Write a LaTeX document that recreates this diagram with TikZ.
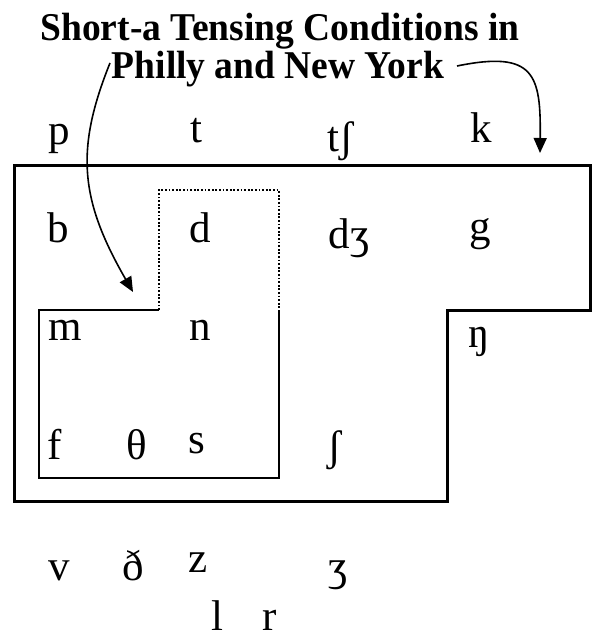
\documentclass[tikz,border=0pt]{standalone}
\usepackage{fontspec}
\setmainfont{Liberation Serif}
\usetikzlibrary{arrows.meta}
\newcommand{\tallhead}[1]{\scalebox{1}[1.05]{#1}}
\tikzset{
  phone/.style={anchor=base, inner sep=0pt, font=\fontsize{43}{50}\selectfont},
  heading/.style={anchor=base, inner sep=0pt, font=\fontsize{37.5}{40}\selectfont\bfseries},
  outerline/.style={line width=3pt},
  innerline/.style={line width=1.5pt},
  dotline/.style={line width=1.8pt, dash pattern=on 1.8pt off 1.8pt},
  pointer/.style={line width=1.6pt, -{Triangle[length=15pt,width=13pt]}}
}
\begin{document}
\begin{tikzpicture}[x=1pt,y=-1pt]
        \useasboundingbox (0,0) rectangle (597,639);

        \node[heading] (headA) at (280,41) {\tallhead{Short-a Tensing Conditions in}};
        \node[heading] (headB) at (278,79) {\tallhead{Philly and New York}};

        % tensing region (thick) and the smaller region (thin + dotted)
        \draw[outerline] (14,166) -- (590,166) -- (590,310) -- (447,310) -- (447,501) -- (14,501) -- cycle;
        \draw[innerline] (159,310) -- (39,310) -- (39,478) -- (279,478) -- (279,310);
        \draw[dotline] (159,310) -- (159,190) -- (279,190) -- (279,310);

        % stops
        \node[phone] (pP) at (59,145) {p};
        \node[phone] (pT) at (196,143) {t};
        \node[phone] (pTsh) at (341,152) {tʃ};
        \node[phone] (pK) at (481,143) {k};

        \node[phone] (pB) at (58,242) {b};
        \node[phone] (pD) at (200,242) {d};
        \node[phone] (pDzh) at (349,248) {dʒ};
        \node[phone] (pG) at (480,240) {g};

        % nasals
        \node[phone] (pM) at (65,340) {m};
        \node[phone] (pN) at (200,340) {n};
        \node[phone] (pNg) at (479,347) {ŋ};

        % fricatives
        \node[phone] (pF) at (55,459) {f};
        \node[phone] (pTh) at (137,459) {θ};
        \node[phone] (pS) at (197,453) {s};
        \node[phone] (pSh) at (335,460) {ʃ};

        \node[phone] (pV) at (59,580) {v};
        \node[phone] (pDh) at (133,580) {ð};
        \node[phone] (pZ) at (198,572) {z};
        \node[phone] (pZh) at (338,580) {ʒ};

        % liquids
        \node[phone] (pL) at (217,630) {l};
        \node[phone] (pR) at (270,630) {r};

        % pointers from the heading
        \coordinate (fromPhilly) at (110,63);
        \coordinate (intoNasal) at (133,292);
        \draw[pointer] (fromPhilly) .. controls (75,150) and (80,200) .. (intoNasal);
        \coordinate (fromYork) at (457,66);
        \coordinate (intoVelar) at (540,153);
        \draw[pointer] (fromYork) .. controls (535,50) and (541,75) .. (intoVelar);

\end{tikzpicture}
\end{document}
